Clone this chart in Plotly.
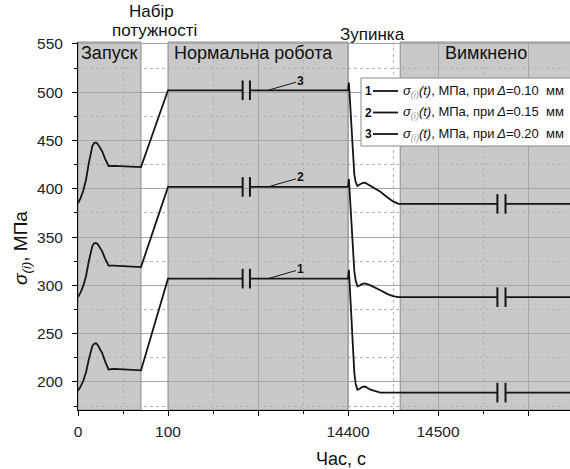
import plotly.graph_objects as go

FONT = "Liberation Sans, Arial, sans-serif"

# ---------------- data ----------------
# time (s) of the start-up phase and stress values for the three gaps
start_t = [0, 3, 6, 9, 12, 14, 16, 18, 20, 22, 24, 27, 30, 32, 34, 40, 55, 70]
start_1 = [191, 195.4, 201.5, 210.3, 223.4, 232.1, 237.4, 239.6, 240, 238.3, 235.4, 229.7, 221.6, 216.5, 213,
           213.5, 212.8, 212]
start_2 = [288, 293, 300, 310, 325, 335, 341, 343.5, 344, 342.5, 340, 335, 328, 323.5, 320.5,
           320.5, 319.8, 319]
start_3 = [385, 390.6, 398.5, 409.8, 426.6, 437.9, 444.6, 447.4, 448, 446.4, 443.8, 438.6, 431.3, 426.6, 423.5,
           423.8, 423, 422.5]

# steady (normal operation) level, 100 s .. 14400 s
normal_level = [307, 402, 502]

# shutdown phase (s) and values
stop_t = [14401, 14403, 14405, 14407, 14408.5, 14410.5, 14413, 14416, 14419, 14425, 14436, 14444, 14450, 14456]
stop_1 = [316, 280, 240, 210, 198, 192, 193, 195, 195.3, 192, 189, 189, 189, 189]
stop_2 = [410, 380, 340, 315, 305, 299, 300, 301.5, 302, 300, 295, 291, 289, 287.8]
stop_3 = [510, 480, 440, 415, 407, 403, 404.5, 406, 406.4, 403, 397, 391, 387, 384.4]
end_t = 14700

# axis breaks (s)
break_mid = [6030, 6610]
break_end = [14566, 14575]

# phases
phase_start = [0, 100, 14458]
phase_end = [70, 14400, 14700]
phase_label = ["Запуск", "Нормальна робота", "Вимкнено"]

# ticks
tick_t = [0, 100, 7250, 14400, 14500, 14600]
tick_text = ["0", "100", " ", "14400", "14500", " "]
minor_t = [50, 3675, 10825, 14450, 14550]

curve_names = ["1", "2", "3"]
deltas = ["0.10", "0.15", "0.20"]


def to_axis(t):
    """broken time axis: 0-100 s linear, 100-14400 s compressed, after 14400 s linear"""
    if t is None:
        return None
    if t <= 100:
        return t
    if t <= 14400:
        return 100 + (t - 100) * 200 / 14300
    return 300 + (t - 14400)


W, H = 570, 469
PL, PT, PR = 78, 42, 0
PB = H - 410
PW, PH = W - PL - PR, H - PT - PB


def px_x(px):
    return (px - PL) / PW


def px_y(py):
    return 1 - (py - PT) / PH


fig = go.Figure()

starts = [start_1, start_2, start_3]
stops = [stop_1, stop_2, stop_3]
LINE = "#151515"

for k in range(3):
    lvl = normal_level[k]
    endv = stops[k][-1]
    xt = start_t + [100, break_mid[0], None, break_mid[1], 14400] + stop_t + [break_end[0], None, break_end[1], end_t]
    yv = starts[k] + [lvl, lvl, None, lvl, lvl] + stops[k] + [endv, None, endv, endv]
    fig.add_trace(go.Scatter(
        x=[to_axis(t) for t in xt], y=yv, mode="lines",
        line=dict(color=LINE, width=1.8), showlegend=False, hoverinfo="skip",
        connectgaps=False))
    fig.add_trace(go.Scatter(
        x=[to_axis(t) for t in break_mid + break_end],
        y=[lvl, lvl, endv, endv], mode="markers",
        marker=dict(symbol="line-ns", size=14, color=LINE, line=dict(width=2, color=LINE)),
        showlegend=False, hoverinfo="skip"))

shapes = []
for s, e in zip(phase_start, phase_end):
    shapes.append(dict(type="rect", xref="x", yref="paper", x0=to_axis(s), x1=to_axis(e),
                       y0=0, y1=1, fillcolor="#c9c9c9", line=dict(color="#8a8a8a", width=1),
                       layer="below"))

annotations = []
label_x_px = [109, 253, 486]
for lab, xp in zip(phase_label, label_x_px):
    annotations.append(dict(text=lab, xref="paper", yref="paper", x=px_x(xp), y=px_y(53),
                            xanchor="center", yanchor="middle", showarrow=False,
                            font=dict(family=FONT, size=18, color="#111")))

# labels above the plot
for txt, xp, yp in [("Набір", 151, 12), ("потужності", 154, 30), ("Зупинка", 372, 35)]:
    annotations.append(dict(text=txt, xref="paper", yref="paper", x=px_x(xp), y=px_y(yp),
                            xanchor="center", yanchor="middle", showarrow=False,
                            font=dict(family=FONT, size=17, color="#111")))

# curve numbers with leaders
for k in range(3):
    annotations.append(dict(text="<b>%s</b>" % curve_names[k], x=to_axis(8040), y=normal_level[k],
                            xref="x", yref="y", ax=33, ay=-9.5, showarrow=True, arrowhead=0,
                            arrowwidth=1, arrowcolor=LINE, standoff=0,
                            font=dict(family=FONT, size=12, color="#111")))

# legend (box, samples, numbers, texts)
leg_rows = [91, 112.5, 134]
shapes.append(dict(type="rect", xref="paper", yref="paper", x0=px_x(361), x1=px_x(580),
                   y0=px_y(146), y1=px_y(78), fillcolor="white",
                   line=dict(color="#8a8a8a", width=1), layer="above"))
for k, yr in enumerate(leg_rows):
    shapes.append(dict(type="line", xref="paper", yref="paper", x0=px_x(373), x1=px_x(398),
                       y0=px_y(yr), y1=px_y(yr), line=dict(color=LINE, width=1.8), layer="above"))
    annotations.append(dict(text="<b>%s</b>" % curve_names[k], xref="paper", yref="paper",
                            x=px_x(368), y=px_y(yr), xanchor="center", yanchor="middle",
                            showarrow=False, font=dict(family=FONT, size=12, color="#111")))
    txt = ("<i>σ</i><sub><span style='color:#9a9a9a'><i>(i)</i></span></sub><i>(t)</i>, МПа, при"
           "\u2009<i>Δ</i>=%s\u00a0\u00a0мм" % deltas[k])
    annotations.append(dict(text=txt, xref="paper", yref="paper", x=px_x(401), y=px_y(yr),
                            xanchor="left", yanchor="middle", showarrow=False,
                            font=dict(family=FONT, size=13, color="#111")))

# axis titles
annotations.append(dict(text="Час, с", xref="paper", yref="paper", x=px_x(341), y=px_y(459),
                        xanchor="center", yanchor="middle", showarrow=False,
                        font=dict(family=FONT, size=18, color="#111")))
annotations.append(dict(text="<i>σ</i><sub><i>(i)</i></sub>, МПа", xref="paper", yref="paper",
                        x=px_x(22), y=px_y(248), xanchor="center", yanchor="middle",
                        textangle=-90, showarrow=False,
                        font=dict(family=FONT, size=19, color="#111")))

fig.update_layout(
    width=W, height=H,
    margin=dict(l=PL, r=PR, t=PT, b=PB, pad=0),
    plot_bgcolor="white", paper_bgcolor="white",
    font=dict(family=FONT, size=15, color="#111"),
    shapes=shapes, annotations=annotations,
    showlegend=False,
    xaxis=dict(
        range=[0, PW / 0.9], tickvals=[to_axis(t) for t in tick_t], ticktext=tick_text,
        ticks="outside", ticklen=5, tickwidth=1, tickcolor="black",
        showline=True, linecolor="black", linewidth=1, mirror=False,
        showgrid=True, gridcolor="#a6a6a6", gridwidth=1, zeroline=False,
        tickfont=dict(family=FONT, size=15.5, color="#222"), ticklabelstandoff=2,
        minor=dict(tickvals=[to_axis(t) for t in minor_t], ticks="outside", ticklen=3,
                   tickcolor="black", showgrid=True, gridcolor="#b3b3b3", griddash="dot"),
    ),
    yaxis=dict(
        range=[171, 552], tick0=0, dtick=50,
        ticks="outside", ticklen=5, tickwidth=1, tickcolor="black",
        showline=True, linecolor="black", linewidth=1, mirror=False,
        showgrid=True, gridcolor="#a6a6a6", gridwidth=1, zeroline=False,
        tickfont=dict(family=FONT, size=15.5, color="#222"), ticklabelstandoff=6,
        minor=dict(dtick=25, tick0=0, ticks="outside", ticklen=3, tickcolor="black",
                   showgrid=True, gridcolor="#b3b3b3", griddash="dot"),
    ),
)

# remove the default 8px page margin so the figure sits at the window corner
fig.write_html("out.html", config={"displayModeBar": False},
               post_script="document.body.style.margin='0';")
